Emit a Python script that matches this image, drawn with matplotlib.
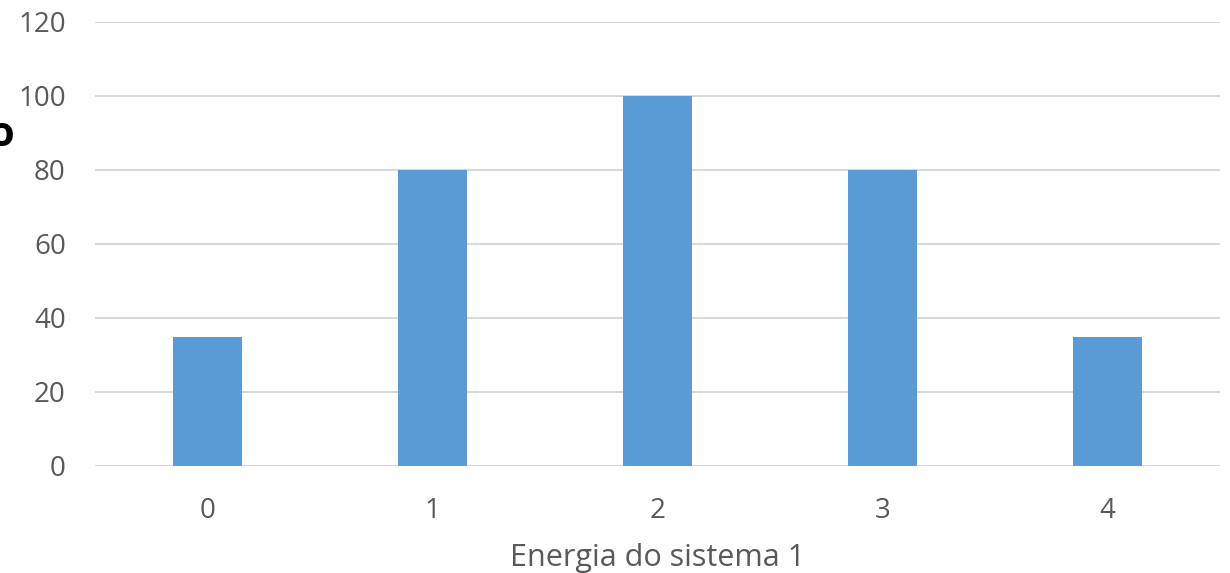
import matplotlib.pyplot as plt

# Energy levels of system 1 and the counts for each
energias = [0, 1, 2, 3, 4]
contagens = [35, 80, 100, 80, 35]
y_ticks = [0, 20, 40, 60, 80, 100, 120]

plt.rcParams['font.family'] = ['Open Sans', 'DejaVu Sans']

fig = plt.figure(figsize=(12.3, 5.73), dpi=100)
ax = fig.add_axes([95 / 1230, 107 / 573, 1125 / 1230, 444 / 573])

ax.bar(energias, contagens, width=0.31, color='#5b9bd5', zorder=2)

ax.set_xlim(-0.5, 4.5)
ax.set_ylim(0, 120)
ax.set_yticks(y_ticks)
ax.set_xticks(energias)
ax.grid(axis='y', color='#d9d9d9', linewidth=1.5, zorder=0)
for s in ax.spines.values():
    s.set_visible(False)
ax.tick_params(axis='both', length=0, labelsize=20, labelcolor='#595959')
ax.tick_params(axis='y', pad=21)
ax.tick_params(axis='x', pad=22)
ax.set_xlabel('Energia do sistema 1', fontsize=22, color='#595959', labelpad=13)

# bold axis title cut off at the left edge
fig.text(-12 / 1230, 1 - 136 / 573, 'o', fontsize=30, fontweight='bold',
         color='black', ha='left', va='center')

fig.savefig('out.png', dpi=100)
